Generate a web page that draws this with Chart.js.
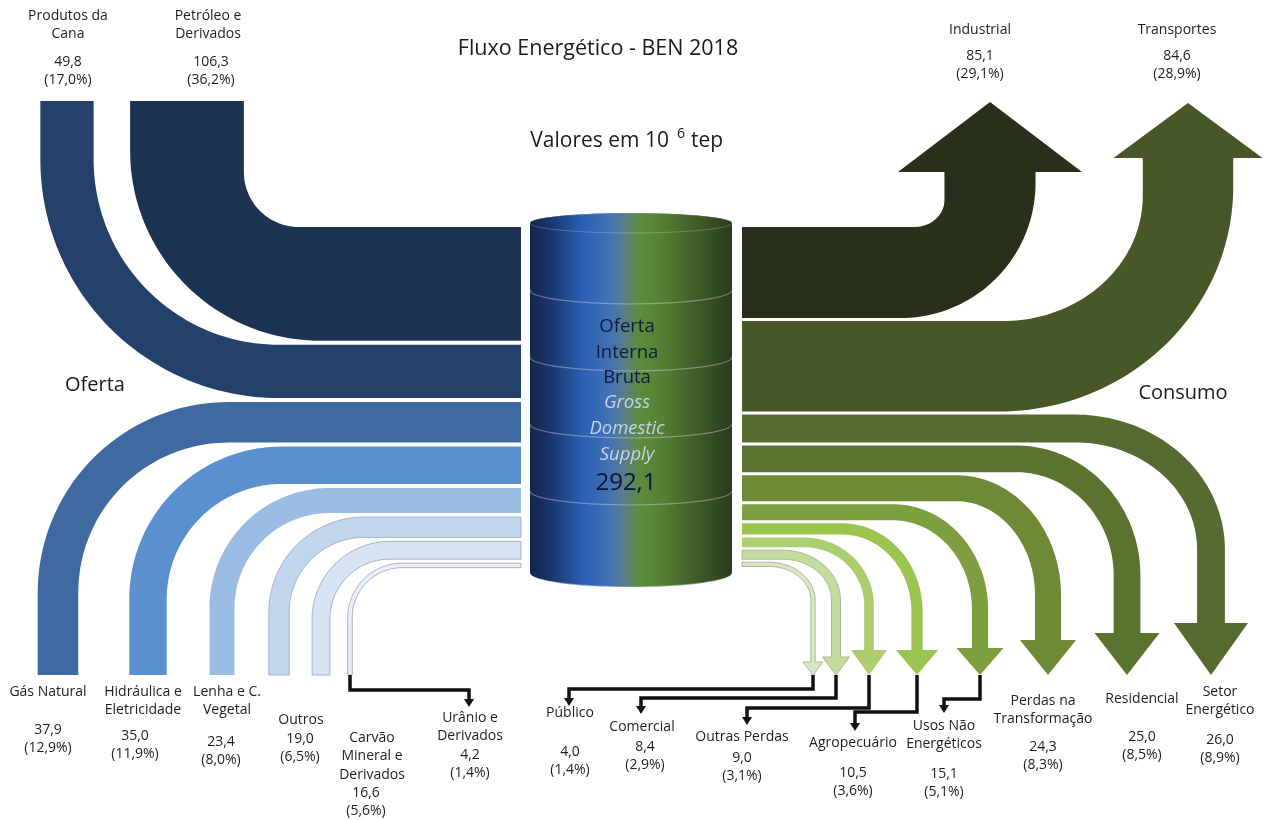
<!DOCTYPE html>
<html lang="pt-BR">
<head>
<meta charset="utf-8">
<title>Fluxo Energético - BEN 2018</title>
<script src="https://cdn.jsdelivr.net/npm/chart.js@4.4.1/dist/chart.umd.min.js"></script>
<style>
  html, body { margin: 0; padding: 0; background: #fff; }
  #fluxo { display: block; }
</style>
</head>
<body>
<canvas id="fluxo" width="1266" height="820"></canvas>
<script>
// ===== Dados (10^6 tep), na ordem em que entram/saem do cilindro =====
const ofertaNomes = [
  ["Petróleo e", "Derivados"], ["Produtos da", "Cana"], ["Gás Natural"],
  ["Hidráulica e", "Eletricidade"], ["Lenha e C.", "Vegetal"], ["Outros"],
  ["Carvão", "Mineral e", "Derivados"], ["Urânio e", "Derivados"]
];
const ofertaValores = [106.3, 49.8, 37.9, 35.0, 23.4, 19.0, 16.6, 4.2];
const ofertaPct = [36.2, 17.0, 12.9, 11.9, 8.0, 6.5, 5.6, 1.4];

const consumoNomes = [
  ["Industrial"], ["Transportes"], ["Setor", "Energético"], ["Residencial"],
  ["Perdas na", "Transformação"], ["Usos Não", "Energéticos"], ["Agropecuário"],
  ["Outras Perdas"], ["Comercial"], ["Público"]
];
const consumoValores = [85.1, 84.6, 26.0, 25.0, 24.3, 15.1, 10.5, 9.0, 8.4, 4.0];
const consumoPct = [29.1, 28.9, 8.9, 8.5, 8.3, 5.1, 3.6, 3.1, 2.9, 1.4];

const ofertaTotal = 292.1;

// ===== Layout (px) =====
const ESCALA = 1.07;          // px por 10^6 tep
const TOPO_PILHA = 227;
const PORTA_ESQ = 521, PORTA_DIR = 742;
const GAP_ESQ = 4, GAP_DIR = 3;

// cx = centro da haste, sy = -1 sobe / 1 desce, fim = fim da haste, rIn = raio interno [rx, ry]
const ofertaLayout = [
  { cx: 187, sy: -1, fim: 101, rIn: [55, 55], rOut: [190, 190] },
  { cx: 67,  sy: -1, fim: 101, rIn: [185, 185] },
  { cx: 58,  sy: 1,  fim: 675, rIn: [150, 150] },
  { cx: 148, sy: 1,  fim: 675, rIn: [115, 115] },
  { cx: 222, sy: 1,  fim: 675, rIn: [95, 95] },
  { cx: 279, sy: 1,  fim: 675, rIn: [75, 75] },
  { cx: 321, sy: 1,  fim: 675, rIn: [60, 60] },
  { cx: 350, sy: 1,  fim: 675, rIn: [50, 50] }
];
const ofertaCores = ["#1c3354", "#23416b", "#3e6aa1", "#5a8fd0", "#9bbde3", "#c0d6ef", "#d6e4f4", "#e9f0f9"];
const ofertaBordas = [null, null, null, null, null, "#a7b2c3", "#a7b2c3", "#a9b1bf"];

const consumoLayout = [
  { cx: 990,  sy: -1, fim: 172, ponta: 102, cabeca: 184, rIn: [30, 27], rOut: [135, 135] },
  { cx: 1188, sy: -1, fim: 158, ponta: 103, cabeca: 149, rIn: [140, 125], rOut: [235, 225] },
  { cx: 1211, sy: 1, fim: 623, ponta: 675, cabeca: 74, rIn: [122, 107] },
  { cx: 1127, sy: 1, fim: 633, ponta: 675, cabeca: 65, rIn: [98, 103] },
  { cx: 1048, sy: 1, fim: 640, ponta: 675, cabeca: 56, rIn: [79, 94] },
  { cx: 980,  sy: 1, fim: 648, ponta: 675, cabeca: 47, rIn: [79, 89] },
  { cx: 917,  sy: 1, fim: 650, ponta: 675, cabeca: 42, rIn: [69, 77] },
  { cx: 869,  sy: 1, fim: 650, ponta: 675, cabeca: 36, rIn: [60, 58] },
  { cx: 836,  sy: 1, fim: 657, ponta: 675, cabeca: 27, rIn: [49, 41] },
  { cx: 813,  sy: 1, fim: 662, ponta: 675, cabeca: 20, rIn: [42, 34] }
];
const consumoCores = ["#282f1b", "#475728", "#566b2f", "#5b7330", "#6d8a37", "#7d9f40", "#9bc451", "#acce6e", "#c3dc9c", "#d8e8c4"];
const consumoBordas = [null, null, null, null, null, null, null, null, "#a9b89a", "#aab79e"];

// Rótulos: x, y da primeira linha do nome, y do valor (percentual logo abaixo)
const ofertaRotulos = [
  { x: 208, y: 16, vx: 211, vy: 62 },
  { x: 68,  y: 16, vx: 68,  vy: 62 },
  { x: 48,  y: 692, vx: 48, vy: 730 },
  { x: 143, y: 692, vx: 135, vy: 736 },
  { x: 227, y: 692, vx: 221, vy: 742 },
  { x: 301, y: 720, vx: 300, vy: 739 },
  { x: 372, y: 738, vx: 366, vy: 793 },
  { x: 470, y: 718, vx: 470, vy: 755 }
];
const consumoRotulos = [
  { x: 980,  y: 30,  vx: 980,  vy: 56 },
  { x: 1177, y: 30,  vx: 1177, vy: 56 },
  { x: 1220, y: 692, vx: 1220, vy: 740 },
  { x: 1142, y: 699, vx: 1142, vy: 737 },
  { x: 1043, y: 701, vx: 1043, vy: 747 },
  { x: 944,  y: 726, vx: 944,  vy: 774 },
  { x: 853,  y: 743, vx: 853,  vy: 773 },
  { x: 742,  y: 737, vx: 742,  vy: 758 },
  { x: 642,  y: 727, vx: 645,  vy: 747 },
  { x: 570,  y: 713, vx: 570,  vy: 752 }
];

// Conectores pretos: [lado, índice, y do cotovelo, x destino, y final]
const conectores = [
  ["oferta", 7, 690, 469, 707],
  ["consumo", 9, 689, 569, 706],
  ["consumo", 8, 698, 641, 714],
  ["consumo", 7, 708, 747, 725],
  ["consumo", 6, 712, 855, 731],
  ["consumo", 5, 699, 944, 713]
];

const FONTE = '"Open Sans", "Noto Sans", sans-serif';
const COR_TEXTO = "#1e1e1e";

// ===== Helpers =====
function fmt(v) {
  return v.toFixed(1).replace(".", ",");
}

function empilhar(valores, gap) {
  let y = TOPO_PILHA;
  return valores.map((v) => {
    const y0 = y;
    const y1 = y + v * ESCALA;
    y = y1 + gap;
    return [y0, y1];
  });
}

// Faixa em "cotovelo": entra/sai do cilindro na horizontal e vira para cima ou para baixo
function desenharFaixa(ctx, X, Y, f) {
  const x0 = f.cx - f.w / 2, x1 = f.cx + f.w / 2;
  const xPerto = f.sx > 0 ? x0 : x1;
  const xLonge = f.sx > 0 ? x1 : x0;
  const yPerto = f.sy > 0 ? f.y1 : f.y0;
  const yLonge = f.sy > 0 ? f.y0 : f.y1;
  const rIn = f.rIn;
  const rOut = f.rOut || [rIn[0] + f.w, rIn[1] + f.w];
  const ci = [xPerto - f.sx * rIn[0], yPerto + f.sy * rIn[1]];
  const co = [xLonge - f.sx * rOut[0], yLonge + f.sy * rOut[1]];
  const N = 48;

  ctx.beginPath();
  ctx.moveTo(X(f.porta), Y(yPerto));
  for (let i = 0; i <= N; i++) {
    const t = (i / N) * Math.PI / 2;
    ctx.lineTo(X(ci[0] + f.sx * rIn[0] * Math.sin(t)), Y(ci[1] - f.sy * rIn[1] * Math.cos(t)));
  }
  ctx.lineTo(X(xPerto), Y(f.fim));
  if (f.cabeca) {
    ctx.lineTo(X(f.cx - f.sx * f.cabeca / 2), Y(f.fim));
    ctx.lineTo(X(f.cx), Y(f.ponta));
    ctx.lineTo(X(f.cx + f.sx * f.cabeca / 2), Y(f.fim));
  }
  ctx.lineTo(X(xLonge), Y(f.fim));
  for (let i = N; i >= 0; i--) {
    const t = (i / N) * Math.PI / 2;
    ctx.lineTo(X(co[0] + f.sx * rOut[0] * Math.sin(t)), Y(co[1] - f.sy * rOut[1] * Math.cos(t)));
  }
  ctx.lineTo(X(f.porta), Y(yLonge));
  ctx.closePath();

  ctx.fillStyle = f.cor;
  ctx.fill();
  if (f.borda) {
    ctx.strokeStyle = f.borda;
    ctx.lineWidth = 1;
    ctx.stroke();
  }
}

function texto(ctx, s, x, y, fonte, cor) {
  ctx.font = fonte;
  ctx.fillStyle = cor;
  ctx.textAlign = "center";
  ctx.textBaseline = "middle";
  ctx.fillText(s, x, y);
}

function rotulo(ctx, X, Y, nomes, valor, pct, r) {
  const f = "14px " + FONTE;
  nomes.forEach((linha, i) => texto(ctx, linha, X(r.x), Y(r.y + i * 18.5), f, COR_TEXTO));
  texto(ctx, fmt(valor), X(r.vx), Y(r.vy), f, COR_TEXTO);
  texto(ctx, "(" + fmt(pct) + "%)", X(r.vx), Y(r.vy + 18.5), f, COR_TEXTO);
}

function desenharCilindro(ctx, X, Y) {
  const xa = X(530), xb = X(732), cx = (xa + xb) / 2, rx = (xb - xa) / 2;
  const yTopo = Y(223), yBase = Y(573);

  const g = ctx.createLinearGradient(xa, 0, xb, 0);
  g.addColorStop(0.0, "#13244a");
  g.addColorStop(0.12, "#1b3a74");
  g.addColorStop(0.27, "#2b62b6");
  g.addColorStop(0.40, "#4472b4");
  g.addColorStop(0.47, "#587f86");
  g.addColorStop(0.54, "#5d8c3c");
  g.addColorStop(0.66, "#557f34");
  g.addColorStop(0.82, "#3f5d28");
  g.addColorStop(1.0, "#2a3b1e");

  ctx.save();
  ctx.beginPath();
  ctx.moveTo(xa, yTopo);
  ctx.lineTo(xa, yBase);
  ctx.ellipse(cx, yBase, rx, 14, 0, Math.PI, 0, true);
  ctx.lineTo(xb, yTopo);
  ctx.ellipse(cx, yTopo, rx, 10, 0, 0, Math.PI, true);
  ctx.closePath();
  ctx.fillStyle = g;
  ctx.fill();

  // tampa
  ctx.beginPath();
  ctx.ellipse(cx, yTopo, rx, 10, 0, 0, Math.PI * 2);
  ctx.fillStyle = g;
  ctx.fill();
  ctx.strokeStyle = "rgba(255,255,255,0.22)";
  ctx.lineWidth = 1;
  ctx.stroke();

  // anéis
  [290, 357, 424, 491, 573].forEach((ya) => {
    ctx.beginPath();
    ctx.ellipse(cx, Y(ya), rx, 14, 0, 0, Math.PI, false);
    ctx.strokeStyle = "rgba(220,224,238,0.4)";
    ctx.lineWidth = 1.2;
    ctx.stroke();
  });
  ctx.restore();

  const fN = "18.5px " + FONTE, fI = "italic 18.5px " + FONTE;
  texto(ctx, "Oferta", cx - 4, Y(327), fN, "#0e1c3b");
  texto(ctx, "Interna", cx - 4, Y(353), fN, "#0e1c3b");
  texto(ctx, "Bruta", cx - 4, Y(378), fN, "#0e1c3b");
  texto(ctx, "Gross", cx - 4, Y(403), fI, "#c6d3e8");
  texto(ctx, "Domestic", cx - 4, Y(429), fI, "#c6d3e8");
  texto(ctx, "Supply", cx - 4, Y(455), fI, "#c6d3e8");
  texto(ctx, fmt(ofertaTotal), cx - 5, Y(483), "24px " + FONTE, "#0b1530");
}

function desenharConector(ctx, X, Y, x0, y0, yc, x1, y1) {
  ctx.save();
  ctx.strokeStyle = "#111";
  ctx.lineWidth = 3.5;
  ctx.lineJoin = "miter";
  ctx.beginPath();
  ctx.moveTo(X(x0), Y(y0));
  ctx.lineTo(X(x0), Y(yc));
  ctx.lineTo(X(x1), Y(yc));
  ctx.lineTo(X(x1), Y(y1 - 6));
  ctx.stroke();
  ctx.beginPath();
  ctx.moveTo(X(x1 - 5), Y(y1 - 8));
  ctx.lineTo(X(x1 + 5), Y(y1 - 8));
  ctx.lineTo(X(x1), Y(y1));
  ctx.closePath();
  ctx.fillStyle = "#111";
  ctx.fill();
  ctx.restore();
}

// ===== Plugin que desenha o fluxo sobre as escalas =====
const fluxoPlugin = {
  id: "fluxoEnergetico",
  beforeDraw(chart) {
    const ctx = chart.ctx;
    ctx.save();
    ctx.fillStyle = "#fff";
    ctx.fillRect(0, 0, chart.width, chart.height);
    ctx.restore();
  },
  afterDatasetsDraw(chart) {
    const ctx = chart.ctx;
    const X = (v) => chart.scales.x.getPixelForValue(v);
    const Y = (v) => chart.scales.y.getPixelForValue(v);

    const pilhaEsq = empilhar(ofertaValores, GAP_ESQ);
    const pilhaDir = empilhar(consumoValores, GAP_DIR);

    ctx.save();
    ofertaValores.forEach((v, i) => {
      const l = ofertaLayout[i];
      desenharFaixa(ctx, X, Y, {
        porta: PORTA_ESQ, y0: pilhaEsq[i][0], y1: pilhaEsq[i][1],
        w: v * ESCALA, cx: l.cx, sx: -1, sy: l.sy, fim: l.fim,
        rIn: l.rIn, rOut: l.rOut, cor: ofertaCores[i], borda: ofertaBordas[i]
      });
    });
    consumoValores.forEach((v, i) => {
      const l = consumoLayout[i];
      desenharFaixa(ctx, X, Y, {
        porta: PORTA_DIR, y0: pilhaDir[i][0], y1: pilhaDir[i][1],
        w: v * ESCALA, cx: l.cx, sx: 1, sy: l.sy, fim: l.fim,
        cabeca: l.cabeca, ponta: l.ponta,
        rIn: l.rIn, rOut: l.rOut, cor: consumoCores[i], borda: consumoBordas[i]
      });
    });

    desenharCilindro(ctx, X, Y);

    conectores.forEach(([lado, i, yc, x1, y1]) => {
      const l = lado === "oferta" ? ofertaLayout[i] : consumoLayout[i];
      const y0 = lado === "oferta" ? l.fim : l.ponta;
      desenharConector(ctx, X, Y, l.cx, y0, yc, x1, y1);
    });

    // Rótulos
    ofertaValores.forEach((v, i) => rotulo(ctx, X, Y, ofertaNomes[i], v, ofertaPct[i], ofertaRotulos[i]));
    consumoValores.forEach((v, i) => rotulo(ctx, X, Y, consumoNomes[i], v, consumoPct[i], consumoRotulos[i]));

    // Títulos
    texto(ctx, "Fluxo Energético - BEN 2018", X(598), Y(49), "21.5px " + FONTE, "#1a1a1a");
    ctx.font = "21px " + FONTE;
    ctx.fillStyle = "#1a1a1a";
    ctx.textBaseline = "middle";
    ctx.textAlign = "right";
    ctx.fillText("Valores em 10", X(669), Y(141));
    ctx.textAlign = "left";
    ctx.font = "14px " + FONTE;
    ctx.fillText("6", X(677), Y(134));
    ctx.font = "21px " + FONTE;
    ctx.fillText("tep", X(691), Y(141));

    texto(ctx, "Oferta", X(95), Y(385), "20px " + FONTE, "#1a1a1a");
    texto(ctx, "Consumo", X(1183), Y(393), "20px " + FONTE, "#1a1a1a");
    ctx.restore();
  }
};

new Chart(document.getElementById("fluxo"), {
  type: "scatter",
  data: { datasets: [] },
  options: {
    responsive: false,
    animation: false,
    layout: { padding: 0 },
    scales: {
      x: { type: "linear", min: 0, max: 1266, display: false },
      y: { type: "linear", min: 0, max: 820, reverse: true, display: false }
    },
    plugins: {
      legend: { display: false },
      tooltip: { enabled: false }
    }
  },
  plugins: [fluxoPlugin]
});
</script>
</body>
</html>
